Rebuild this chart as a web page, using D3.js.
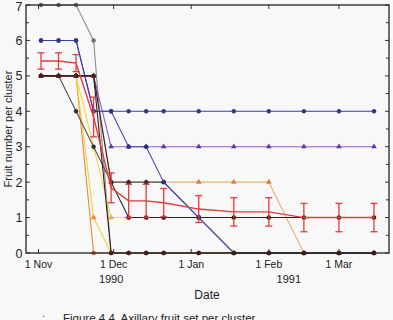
<!DOCTYPE html>
<html><head><meta charset="utf-8">
<script src="https://cdn.jsdelivr.net/npm/d3@7"></script>
<style>
body{margin:0;background:#f8f8f8;}
svg{display:block;font-family:"Liberation Sans",Arial,sans-serif;}
</style>
</head><body>
<svg id="c" width="393" height="320"></svg>
<script>
// ---- data ----
const dates = ["1990-11-02","1990-11-09","1990-11-16","1990-11-23","1990-11-30","1990-12-07","1990-12-14","1990-12-21","1991-01-04","1991-01-18","1991-02-01","1991-02-15","1991-03-01","1991-03-15"];
const monthTicks = ["1990-11-01","1990-12-01","1991-01-01","1991-02-01","1991-03-01"];
const monthLabels = ["1 Nov","1 Dec","1 Jan","1 Feb","1 Mar"];
const yearLabels = ["1990","1991"];
const yearDates = ["1990-11-30","1991-02-09"];
const yTicks = [0,1,2,3,4,5,6,7];
const meanValues = [5.42,5.42,5.36,3.84,1.84,1.47,1.47,1.42,1.24,1.16,1.16,1.0,1.0,1.0];
const meanErrors = [0.23,0.23,0.24,0.56,0.42,0.47,0.47,0.4,0.38,0.4,0.4,0.4,0.4,0.4];
const sGrey    = [7,7,7,6,0,0,0,0,0,0,0,0,0,0];
const sOrange  = [5,5,5,0,0,0,0,0,0,0,0,0,0,0];
const sYellowA = [5,5,5,1,0,0,0,0,0,0,0,0,0,0];
const sYellowB = [5,5,5,null,1,1,1,1,1,1,1,1,1,1];
const sTan     = [5,5,5,5,2,2,2,2,2,2,2,0,0,0];
const sPurple  = [5,5,5,5,3,3,3,3,3,3,3,3,3,3];
const sGreen   = [5,5,4,3,2,2,2,2,1,0,0,0,0,0];
const sDark    = [5,5,5,5,2,1,1,1,1,1,1,1,1,1];
const sBlue    = [6,6,6,4,4,3,3,2,1,0,0,0,0,0];
const sNavy    = [6,6,6,4,4,4,4,4,4,4,4,4,4,4];
const sBrown   = [5,5,5,5,0,0,0,0,0,0,0,0,0,0];

const seriesList = [
  {v:sGrey,    line:"#8e8e8e", mark:"#6e6e6e", shape:"circle"},
  {v:sOrange,  line:"#e8883a", mark:"#c8602a", shape:"circle"},
  {v:sYellowA, line:"#f0d040", mark:"#e08a3a", shape:"triangle"},
  {v:sYellowB, line:"#f2d84a", mark:"#e0b030", shape:"triangle"},
  {v:sTan,     line:"#ebb070", mark:"#e07a4a", shape:"triangle"},
  {v:sPurple,  line:"#9060d8", mark:"#5a3aa0", shape:"triangle"},
  {v:sGreen,   line:"#4e5450", mark:"#2e2e2e", shape:"circle"},
  {v:sDark,    line:"#2a2222", mark:"#2a1a1a", shape:"circle"},
  {v:sBlue,    line:"#4a4ab8", mark:"#303078", shape:"circle"},
  {v:sNavy,    line:"#3c3ca8", mark:"#34348a", shape:"circle"},
  {v:sBrown,   line:"#3a1c1c", mark:"#4a1e1e", shape:"circle"}
];

// ---- layout ----
const parse = d3.utcParse("%Y-%m-%d");
const svg = d3.select("#c");
const L = 26, R = 389, T = 5, B = 253;
const x = d3.scaleUtc().domain([parse("1990-10-27"), parse("1991-03-21")]).range([L, R]);
const y = d3.scaleLinear().domain([0, 7]).range([B, T]);

svg.append("rect").attr("width",393).attr("height",320).attr("fill","#f8f8f8");

// ticks (inward, mirrored)
const halfTicks = d3.range(0, 7.01, 0.5);
const tg = svg.append("g").attr("stroke","#333").attr("stroke-width",1);
halfTicks.forEach(t => {
  const len = Number.isInteger(t) ? 4 : 3;
  tg.append("line").attr("x1",L).attr("x2",L+len).attr("y1",y(t)).attr("y2",y(t));
  tg.append("line").attr("x1",R).attr("x2",R-len).attr("y1",y(t)).attr("y2",y(t));
});
monthTicks.forEach(m => {
  const xx = x(parse(m));
  tg.append("line").attr("x1",xx).attr("x2",xx).attr("y1",B).attr("y2",B-4);
  tg.append("line").attr("x1",xx).attr("x2",xx).attr("y1",T).attr("y2",T+4);
});

// series lines
const line = d3.line().x(d => x(d.date)).y(d => y(d.val));
seriesList.forEach(s => {
  const pts = dates.map((d,i) => ({date: parse(d), val: s.v[i]})).filter(p => p.val !== null);
  svg.append("path").datum(pts).attr("d", line).attr("fill","none")
    .attr("stroke", s.line).attr("stroke-width", 1.1);
  pts.forEach(p => {
    if (s.shape === "circle") {
      svg.append("circle").attr("cx", x(p.date)).attr("cy", y(p.val)).attr("r", 2.2).attr("fill", s.mark);
    } else {
      svg.append("path").attr("d", d3.symbol(d3.symbolTriangle, 14)())
        .attr("transform", `translate(${x(p.date)},${y(p.val)})`).attr("fill", s.mark);
    }
  });
});

// mean with error bars
const red = "#e33a3a";
const meanPts = dates.map((d,i) => ({date: parse(d), val: meanValues[i], err: meanErrors[i]}));
svg.append("path").datum(meanPts).attr("d", line).attr("fill","none").attr("stroke", red).attr("stroke-width", 1.4);
const eg = svg.append("g").attr("stroke", red).attr("stroke-width", 1.3);
meanPts.forEach(p => {
  const xx = x(p.date), y1 = y(p.val + p.err), y2 = y(p.val - p.err);
  eg.append("line").attr("x1",xx).attr("x2",xx).attr("y1",y1).attr("y2",y2);
  eg.append("line").attr("x1",xx-3.5).attr("x2",xx+3.5).attr("y1",y1).attr("y2",y1);
  eg.append("line").attr("x1",xx-3.5).attr("x2",xx+3.5).attr("y1",y2).attr("y2",y2);
});

// frame
svg.append("rect").attr("x",L).attr("y",T).attr("width",R-L).attr("height",B-T)
  .attr("fill","none").attr("stroke","#222").attr("stroke-width",1.3);

// y labels
yTicks.forEach(t => {
  svg.append("text").attr("x",22.5).attr("y",Math.max(y(t), 6)).attr("dy","0.36em")
    .attr("text-anchor","end").attr("font-size",12.5).attr("fill","#222").text(t);
});
svg.append("text").attr("transform",`translate(12,${(T+B)/2}) rotate(-90)`)
  .attr("text-anchor","middle").attr("font-size",11).attr("fill","#222").text("Fruit number per cluster");

// x labels
monthTicks.forEach((m,i) => {
  svg.append("text").attr("x", x(parse(m))).attr("y", 268).attr("text-anchor","middle")
    .attr("font-size",10.5).attr("fill","#222").text(monthLabels[i]);
});
yearLabels.forEach((yl,i) => {
  svg.append("text").attr("x", x(parse(yearDates[i]))).attr("y", 283).attr("text-anchor","middle")
    .attr("font-size",11).attr("fill","#222").text(yl);
});
svg.append("text").attr("x", 207).attr("y", 299).attr("text-anchor","middle")
  .attr("font-size",12).attr("fill","#222").text("Date");

// caption (partly cut off at the bottom, as in the reference)
svg.append("text").attr("x", 42).attr("y", 317).attr("font-size",11).attr("fill","#444").text(".");
svg.append("text").attr("x", 63).attr("y", 322).attr("font-size",11.5).attr("fill","#222")
  .text("Figure 4.4. Axillary fruit set per cluster");
</script>
</body></html>
